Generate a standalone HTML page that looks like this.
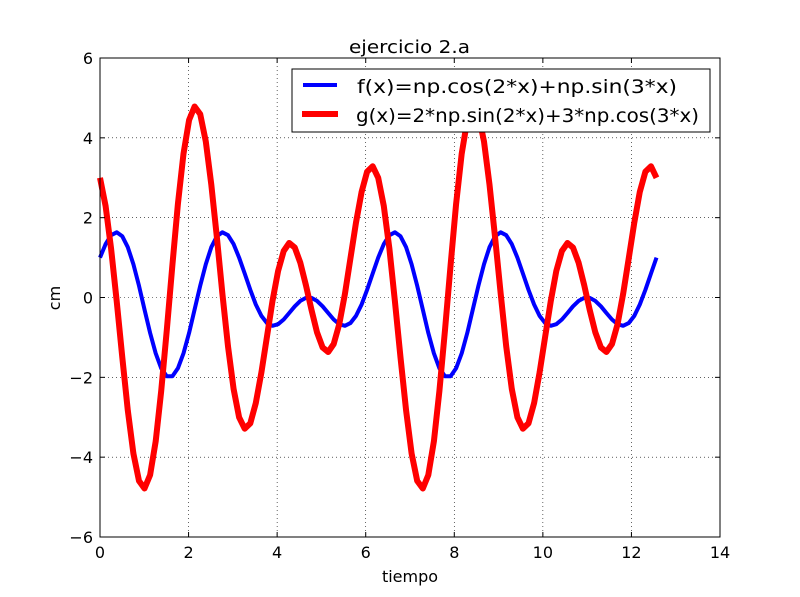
<!DOCTYPE html>
<html><head><meta charset="utf-8"><style>
html,body{margin:0;padding:0;background:#fff;}
svg{display:block;font-family:"DejaVu Sans","Liberation Sans",sans-serif;}
</style></head><body>
<svg id="chart" width="800" height="597" viewBox="0 0 800 597" xmlns="http://www.w3.org/2000/svg">
<rect x="0" y="0" width="800" height="597" fill="#fff"/>
<g id="grid"></g>
<g id="series"></g>
<rect x="100" y="58" width="620" height="479" fill="none" stroke="#000" stroke-width="1"/>
<g id="ticks"></g>
<text x="349" y="53" font-size="18" textLength="121" lengthAdjust="spacingAndGlyphs">ejercicio 2.a</text>
<text x="410" y="582" font-size="16" text-anchor="middle">tiempo</text>
<text x="60" y="298" font-size="16" text-anchor="middle" transform="rotate(-90 60 298)">cm</text>
<g>
<rect x="292" y="69" width="418" height="63" fill="#fff" stroke="#000" stroke-width="1"/>
<line x1="303" y1="85" x2="337" y2="85" stroke="#0000ff" stroke-width="4"/>
<text x="357" y="93" font-size="19" textLength="320" lengthAdjust="spacingAndGlyphs">f(x)=np.cos(2*x)+np.sin(3*x)</text>
<line x1="302" y1="114" x2="338" y2="114" stroke="#ff0000" stroke-width="6"/>
<text x="356" y="122" font-size="19" textLength="343" lengthAdjust="spacingAndGlyphs">g(x)=2*np.sin(2*x)+3*np.cos(3*x)</text>
</g>
</svg>
<script>
const xs=[0,0.126,0.251,0.377,0.503,0.628,0.754,0.880,1.005,1.131,1.257,1.382,1.508,1.634,1.759,1.885,2.011,2.136,2.262,2.388,2.513,2.639,2.765,2.890,3.016,3.142,3.267,3.393,3.519,3.644,3.770,3.896,4.021,4.147,4.273,4.398,4.524,4.650,4.775,4.901,5.027,5.152,5.278,5.404,5.529,5.655,5.781,5.906,6.032,6.158,
6.283,6.409,6.535,6.660,6.786,6.912,7.037,7.163,7.288,7.414,7.540,7.665,7.791,7.917,8.042,8.168,8.294,8.419,8.545,8.671,8.796,8.922,9.048,9.173,9.299,9.425,9.550,9.676,9.802,9.927,10.053,10.179,10.304,10.430,10.556,10.681,10.807,10.933,11.058,11.184,11.310,11.435,11.561,11.687,11.812,11.938,12.064,12.189,12.315,12.441,12.566];
const fVals=[1,1.337,1.561,1.634,1.534,1.260,0.833,0.294,-0.300,-0.886,-1.397,-1.774,-1.974,-1.974,-1.774,-1.397,-0.886,-0.300,0.294,0.833,1.260,1.534,1.634,1.561,1.337,1,0.601,0.192,-0.176,-0.462,-0.642,-0.708,-0.669,-0.551,-0.389,-0.221,-0.086,-0.010,-0.010,-0.086,-0.221,-0.389,-0.551,-0.669,-0.708,-0.642,-0.462,-0.176,0.192,0.601,
1,1.337,1.561,1.634,1.534,1.260,0.833,0.294,-0.300,-0.886,-1.397,-1.774,-1.974,-1.974,-1.774,-1.397,-0.886,-0.300,0.294,0.833,1.260,1.534,1.634,1.561,1.337,1,0.601,0.192,-0.176,-0.462,-0.642,-0.708,-0.669,-0.551,-0.389,-0.221,-0.086,-0.010,-0.010,-0.086,-0.221,-0.389,-0.551,-0.669,-0.708,-0.642,-0.462,-0.176,0.192,0.601,1];
const gVals=[3,2.292,1.223,-0.092,-1.500,-2.829,-3.908,-4.594,-4.786,-4.447,-3.603,-2.343,-0.813,0.813,2.343,3.603,4.447,4.786,4.594,3.908,2.829,1.500,0.092,-1.223,-2.292,-3,-3.287,-3.151,-2.646,-1.877,-0.975,-0.084,0.664,1.166,1.365,1.251,0.871,0.311,-0.311,-0.871,-1.251,-1.365,-1.166,-0.664,0.084,0.975,1.877,2.646,3.151,3.287,
3,2.292,1.223,-0.092,-1.500,-2.829,-3.908,-4.594,-4.786,-4.447,-3.603,-2.343,-0.813,0.813,2.343,3.603,4.447,4.786,4.594,3.908,2.829,1.500,0.092,-1.223,-2.292,-3,-3.287,-3.151,-2.646,-1.877,-0.975,-0.084,0.664,1.166,1.365,1.251,0.871,0.311,-0.311,-0.871,-1.251,-1.365,-1.166,-0.664,0.084,0.975,1.877,2.646,3.151,3.287,3];
const xTicks=[0,2,4,6,8,10,12,14];
const yTicks=[-6,-4,-2,0,2,4,6];
const yTickLabels=["\u22126","\u22124","\u22122","0","2","4","6"];

const X0=100,X1=720,Y0=537,Y1=58,xMin=0,xMax=14,yMin=-6,yMax=6;
function sx(v){return X0+(v-xMin)/(xMax-xMin)*(X1-X0);}
function sy(v){return Y0-(v-yMin)/(yMax-yMin)*(Y0-Y1);}
const NS="http://www.w3.org/2000/svg";
function mk(tag,attrs,parent){const e=document.createElementNS(NS,tag);for(const k in attrs)e.setAttribute(k,attrs[k]);parent.appendChild(e);return e;}
const grid=document.getElementById('grid'),ticks=document.getElementById('ticks'),series=document.getElementById('series');
xTicks.forEach(t=>{
  const x=sx(t);
  const g=mk('line',{x1:x,y1:Y1,x2:x,y2:Y0,stroke:'#000','stroke-width':0.6,'stroke-dasharray':'1,3'},grid);
  
  
  const a=mk('line',{x1:x,y1:Y0,x2:x,y2:Y0-5,stroke:'#000'},ticks);
  
  
  const b=mk('line',{x1:x,y1:Y1,x2:x,y2:Y1+5,stroke:'#000'},ticks);
  
  
  const l=mk('text',{x:x,y:Y0+21,'font-size':16,'text-anchor':'middle'},ticks);
  l.textContent=String(t);
  
  
});
yTicks.forEach((t,i)=>{
  const y=sy(t);
  const g=mk('line',{x1:X0,y1:y,x2:X1,y2:y,stroke:'#000','stroke-width':0.6,'stroke-dasharray':'1,3'},grid);
  
  
  const a=mk('line',{x1:X0,y1:y,x2:X0+5,y2:y,stroke:'#000'},ticks);
  
  
  const b=mk('line',{x1:X1,y1:y,x2:X1-5,y2:y,stroke:'#000'},ticks);
  
  
  const l=mk('text',{x:X0-7,y:y+6,'font-size':16,'text-anchor':'end'},ticks);
  l.textContent=yTickLabels[i];
  
  
});
function pts(vals){return xs.map((x,i)=>sx(x).toFixed(1)+','+sy(vals[i]).toFixed(1)).join(' ');}
const pf=mk('polyline',{points:pts(fVals),fill:'none',stroke:'#0000ff','stroke-width':4,'stroke-linejoin':'round'},series);


const pg=mk('polyline',{points:pts(gVals),fill:'none',stroke:'#ff0000','stroke-width':6,'stroke-linejoin':'round'},series);


</script>
</body></html>
